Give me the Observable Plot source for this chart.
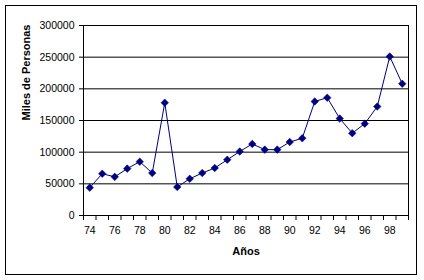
<!DOCTYPE html>
<html>
<head>
<meta charset="utf-8">
<script src="https://cdn.jsdelivr.net/npm/d3@7"></script>
<script src="https://cdn.jsdelivr.net/npm/@observablehq/plot@0.6"></script>
<style>
  html, body { margin: 0; padding: 0; background: #fff; }
  #wrap { position: relative; width: 424px; height: 280px; }
  #border { position: absolute; left: 5px; top: 5px; width: 410px; height: 268px; border: 1px solid #000; pointer-events: none; }
</style>
</head>
<body>
<div id="wrap"><div id="chart"></div><div id="border"></div></div>
<script>
const years = [74,75,76,77,78,79,80,81,82,83,84,85,86,87,88,89,90,91,92,93,94,95,96,97,98,99];
const values = [44000,66000,61000,74000,85000,67000,178000,45000,58000,67000,75000,88000,101000,113000,104000,104000,116000,122000,180000,186000,153000,130000,145000,172000,251000,208000];
const xTickLabels = [74,76,78,80,82,84,86,88,90,92,94,96,98];
const yTicks = [0,50000,100000,150000,200000,250000,300000];
const yTitle = "Miles de Personas";
const xTitle = "Años";

const data = years.map((y, i) => ({year: y, value: values[i]}));
const boundaries = d3.range(years[0] - 0.5, years[years.length - 1] + 1, 1);

const chart = Plot.plot({
  width: 424,
  height: 280,
  marginLeft: 83,
  marginRight: 16,
  marginTop: 25,
  marginBottom: 65,
  style: {fontFamily: "'Liberation Sans', Arial, sans-serif", fontSize: "10.5px", color: "#000", background: "#fff"},
  x: {domain: [years[0] - 0.5, years[years.length - 1] + 0.5]},
  y: {domain: [0, 300000]},
  marks: [
    Plot.gridY(yTicks, {stroke: "#000", strokeOpacity: 1}),
    Plot.frame({stroke: "#000"}),
    Plot.axisY(yTicks, {tickSize: 4, tickPadding: 5, label: null, tickFormat: d => String(d)}),
    Plot.axisX(boundaries, {tickSize: 5, tickFormat: () => "", label: null}),
    Plot.axisX(xTickLabels, {tickSize: 0, tickPadding: 11, label: null, tickFormat: d => String(d)}),
    Plot.line(data, {x: "year", y: "value", stroke: "#000080", strokeWidth: 1}),
    Plot.dot(data, {x: "year", y: "value", symbol: "square", r: 3, rotate: 45, fill: "#000080", stroke: "#000080", strokeWidth: 0.5}),
    Plot.text([yTitle], {frameAnchor: "left", dx: -57, rotate: -90, text: d => d, fontWeight: "bold", fontSize: 11}),
    Plot.text([xTitle], {frameAnchor: "bottom", dy: 39, text: d => d, fontWeight: "bold", fontSize: 11})
  ]
});
document.getElementById("chart").appendChild(chart);
</script>
</body>
</html>
